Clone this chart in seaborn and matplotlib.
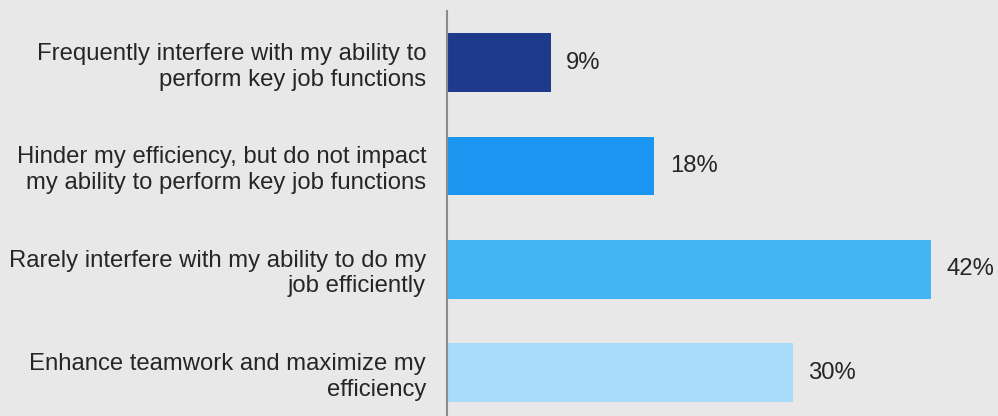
import matplotlib
matplotlib.use('Agg')
import matplotlib.pyplot as plt
import seaborn as sns
import pandas as pd

# --- dados ---
categorias = [
    'Frequently interfere with my ability to\nperform key job functions',
    'Hinder my efficiency, but do not impact\nmy ability to perform key job functions',
    'Rarely interfere with my ability to do my\njob efficiently',
    'Enhance teamwork and maximize my\nefficiency',
]
valores = [9, 18, 42, 30]
rotulos = ['9%', '18%', '42%', '30%']
cores = ['#1e3a8a', '#1a96f0', '#42b4f4', '#a8dcfa']

cor_fundo = '#e8e8e8'
cor_texto = '#262626'
tam_fonte = 17.2

sns.set_style('white')
plt.rcParams['font.family'] = ['Liberation Sans', 'DejaVu Sans']

df = pd.DataFrame({'cat': categorias, 'val': valores})

fig = plt.figure(figsize=(9.98, 4.16), dpi=100, facecolor=cor_fundo)
ax = fig.add_axes([447 / 998, 0, 551 / 998, 405 / 416])
ax.set_facecolor(cor_fundo)

sns.barplot(data=df, x='val', y='cat', hue='cat', palette=cores,
            orient='h', width=0.57, legend=False, ax=ax, saturation=1,
            linewidth=0)

for i, (v, r) in enumerate(zip(valores, rotulos)):
    ax.text(v + 1.35, i, r, va='center', ha='left', fontsize=tam_fonte, color=cor_texto)

ax.set_xlim(0, 47.8)
ax.set_ylim(3.42, -0.5)
ax.set_xlabel('')
ax.set_ylabel('')
ax.set_xticks([])
ax.tick_params(axis='y', length=0, pad=15, labelsize=tam_fonte, labelcolor=cor_texto)
for lbl in ax.get_yticklabels():
    lbl.set_horizontalalignment('right')
    lbl.set_multialignment('right')
    lbl.set_linespacing(1.2)

for s in ['top', 'right', 'bottom']:
    ax.spines[s].set_visible(False)
ax.spines['left'].set_color('#8c8c8c')
ax.spines['left'].set_linewidth(1.5)

fig.savefig('out.png', dpi=100, facecolor=cor_fundo)
